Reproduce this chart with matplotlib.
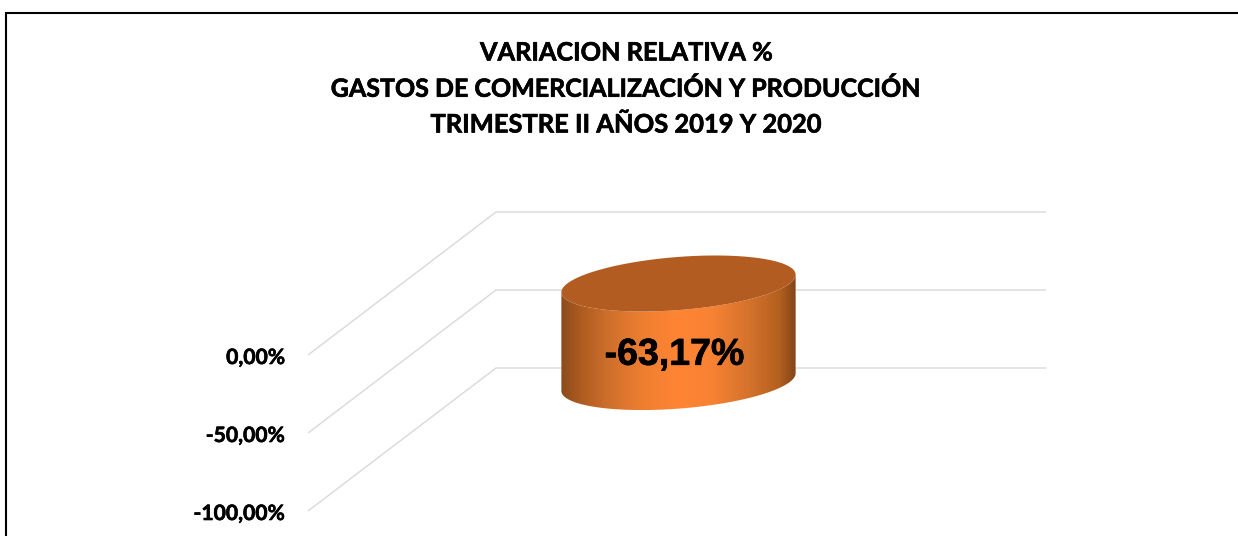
import numpy as np
import matplotlib
matplotlib.use("Agg")
import matplotlib.pyplot as plt
import matplotlib.patheffects as pe
from matplotlib.colors import LinearSegmentedColormap
from matplotlib.patches import Polygon

title_lines = ["VARIACION RELATIVA %",
               "GASTOS DE COMERCIALIZACIÓN Y PRODUCCIÓN",
               "TRIMESTRE II AÑOS 2019 Y 2020"]
title_sizes = [18.2, 18.0, 18.35]
tick_values = [0, -50, -100]
tick_labels = ["0,00%", "-50,00%", "-100,00%"]
bar_value = -63.17
bar_label = "-63,17%"

W, H = 1238, 536
PX_PER_CAT = 550.0      # px per category width
PX_PER_VAL = 1.56       # px per percentage point
X0, Y0 = 308.0, 355.0   # front-left corner of value 0, in px
DX, DY = 188.0, 143.0   # depth vector, px

fig = plt.figure(figsize=(W / 100, H / 100), dpi=100, facecolor="white")
ax = fig.add_axes([0, 0, 1, 1])
ax.set_xlim(-X0 / PX_PER_CAT, (W - X0) / PX_PER_CAT)
ax.set_ylim((Y0 - H) / PX_PER_VAL, Y0 / PX_PER_VAL)
ax.axis("off")

ddx, ddy = DX / PX_PER_CAT, DY / PX_PER_VAL
heavier = [pe.withStroke(linewidth=0.45, foreground="black")]

# walls: gridlines and floor-going lines
for v in tick_values:
    ax.plot([0, ddx, ddx + 1], [v, v + ddy, v + ddy], color="#dcdcdc", lw=1.1,
            solid_capstyle="butt", solid_joinstyle="miter", zorder=1)

# tick labels
for v, lab in zip(tick_values, tick_labels):
    ax.text(-23 / PX_PER_CAT, v - 3 / PX_PER_VAL, lab, ha="right", va="center",
            family="Lato", fontweight="bold", fontsize=15.2, color="black",
            path_effects=heavier)

# cylinder
cx = 0.5 + 0.5 * ddx + 1.5 / PX_PER_CAT
cy = 0.5 * ddy
A, Bx, C = 111.2 / PX_PER_CAT, 36.8 / PX_PER_CAT, 28 / PX_PER_VAL
t = np.linspace(0, 2 * np.pi, 361)
ex = cx + A * np.cos(t) + Bx * np.sin(t)
ey_rel = C * np.sin(t)

top = np.column_stack([ex, cy + ey_rel])
bottom = np.column_stack([ex, cy + bar_value + ey_rel])
il, ir = np.argmin(ex), np.argmax(ex)
order = np.r_[il:360, 0:ir + 1] if il > ir else np.r_[il:ir + 1]
side = np.vstack([bottom[order], top[order][::-1]])

stops = [(0.00, "#8a4c1e"), (0.07, "#a9591f"), (0.20, "#cf6f2c"), (0.36, "#f07f31"),
         (0.50, "#ff8534"), (0.64, "#f88233"), (0.80, "#d5722d"), (0.93, "#b5601f"), (1.00, "#824519")]
cmap = LinearSegmentedColormap.from_list("cyl", stops)
clip = Polygon(side, closed=True, transform=ax.transData, facecolor="none", edgecolor="none")
ax.add_patch(clip)
im = ax.imshow(np.linspace(0, 1, 256)[None, :], cmap=cmap, aspect="auto", zorder=3,
               extent=[ex.min(), ex.max(), bottom[:, 1].min(), top[:, 1].max()])
im.set_clip_path(clip)
ax.set_xlim(-X0 / PX_PER_CAT, (W - X0) / PX_PER_CAT)
ax.set_ylim((Y0 - H) / PX_PER_VAL, Y0 / PX_PER_VAL)
ax.add_patch(Polygon(top, closed=True, facecolor="#b35c22", edgecolor="none", zorder=4))

ax.text(cx - 4 / PX_PER_CAT, cy + bar_value / 2 - 22 / PX_PER_VAL,
        bar_label, ha="center", va="center",
        family="Liberation Sans", fontweight="bold", fontsize=27, color="black", zorder=5,
        path_effects=[pe.withStroke(linewidth=0.5, foreground="black")])

# title
for y_px, line, size in zip([53, 89, 125], title_lines, title_sizes):
    fig.text(626 / W, 1 - y_px / H, line, ha="center", va="center",
             family="Lato", fontweight="bold", fontsize=size, color="black",
             path_effects=heavier)

# chart frame (runs off the right and bottom of the picture)
fig.add_artist(plt.Line2D([5.5 / W, 5.5 / W, 1.0], [0, 1 - 12.5 / H, 1 - 12.5 / H],
                          color="black", lw=1.5, solid_joinstyle="miter"))

fig.savefig("out.png", dpi=100)
